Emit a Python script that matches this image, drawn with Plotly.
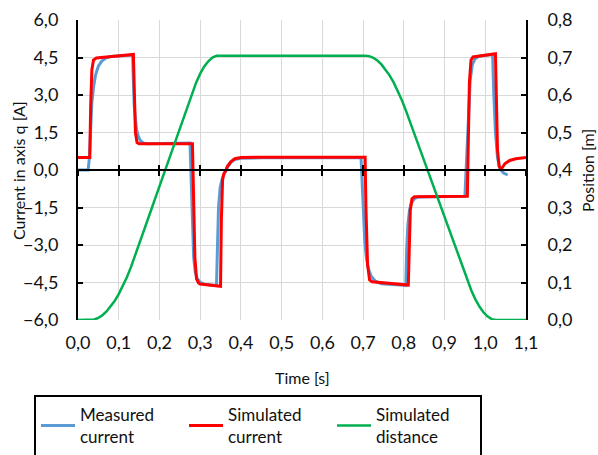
import plotly.graph_objects as go

# ---- data ----
meas_t = [0.000, 0.025, 0.028, 0.031, 0.034, 0.038, 0.043, 0.050, 0.058, 0.068, 0.080, 0.134,
          0.136, 0.138, 0.141, 0.144, 0.148, 0.153, 0.160, 0.170, 0.275, 0.278, 0.281, 0.284,
          0.288, 0.293, 0.300, 0.310, 0.340, 0.342, 0.345, 0.349, 0.354, 0.360, 0.367, 0.375,
          0.385, 0.400, 0.450, 0.695, 0.698, 0.701, 0.704, 0.708, 0.713, 0.720, 0.730, 0.745,
          0.805, 0.807, 0.810, 0.814, 0.819, 0.826, 0.835, 0.950, 0.953, 0.956, 0.959, 0.963,
          0.968, 0.975, 0.985, 1.018, 1.021, 1.025, 1.030, 1.036, 1.045, 1.055]
meas_i = [0.00, 0.00, 0.50, 1.80, 2.70, 3.30, 3.80, 4.15, 4.35, 4.48, 4.54, 4.60,
          3.50, 2.60, 2.00, 1.60, 1.35, 1.18, 1.08, 1.05, 1.08, -0.50, -2.50, -3.50,
          -4.10, -4.35, -4.50, -4.57, -4.62, -3.00, -1.50, -0.70, -0.35, -0.12, 0.12, 0.30,
          0.42, 0.47, 0.49, 0.49, -0.50, -1.80, -2.80, -3.50, -3.95, -4.25, -4.45, -4.55,
          -4.62, -3.20, -2.20, -1.60, -1.30, -1.15, -1.08, -1.05, 0.00, 1.50, 2.70, 3.60,
          4.20, 4.45, 4.55, 4.62, 3.00, 1.50, 0.50, 0.05, -0.12, -0.20]

sim_t = [0.000, 0.029, 0.031, 0.034, 0.038, 0.045, 0.136, 0.138, 0.141, 0.145, 0.150, 0.281,
         0.283, 0.287, 0.291, 0.296, 0.300, 0.350, 0.352, 0.355, 0.358, 0.362, 0.367, 0.375,
         0.385, 0.400, 0.450, 0.705, 0.707, 0.711, 0.716, 0.722, 0.811, 0.813, 0.816, 0.820,
         0.826, 0.956, 0.958, 0.961, 0.965, 0.970, 1.025, 1.027, 1.030, 1.034, 1.038, 1.042,
         1.048, 1.060, 1.075, 1.100]
sim_i = [0.50, 0.50, 2.50, 4.00, 4.40, 4.48, 4.62, 3.00, 1.50, 1.10, 1.05, 1.05,
         -1.00, -3.50, -4.35, -4.52, -4.56, -4.65, -2.00, -0.40, -0.15, -0.05, 0.15, 0.33,
         0.45, 0.50, 0.51, 0.51, -1.50, -3.80, -4.40, -4.47, -4.60, -3.00, -1.60, -1.15,
         -1.07, -1.05, 1.00, 3.50, 4.40, 4.52, 4.65, 2.50, 0.80, 0.15, 0.05, 0.10,
         0.25, 0.38, 0.45, 0.50]

dist_t = [0.00, 0.03, 0.04, 0.05, 0.06, 0.07, 0.08, 0.09, 0.10, 0.11, 0.12, 0.13, 0.14,
          0.15, 0.16, 0.17, 0.18, 0.19, 0.20, 0.21, 0.22, 0.23, 0.24, 0.25, 0.26, 0.27,
          0.28, 0.29, 0.30, 0.31, 0.32, 0.33, 0.34, 0.345, 0.705, 0.715, 0.725, 0.735,
          0.745, 0.755, 0.765, 0.775, 0.785, 0.795, 0.805, 0.811, 0.82, 0.83, 0.84, 0.85,
          0.86, 0.87, 0.88, 0.89, 0.90, 0.91, 0.92, 0.93, 0.94, 0.956, 0.966, 0.976,
          0.986, 0.996, 1.006, 1.016, 1.026, 1.10]
dist_m = [0.000, 0.000, 0.0014, 0.0056, 0.0127, 0.0226, 0.0353, 0.0508, 0.0691, 0.0902, 0.1142, 0.141, 0.1706,
          0.2016, 0.2326, 0.2636, 0.2946, 0.3256, 0.3566, 0.3876, 0.4186, 0.4496, 0.4806, 0.5116, 0.5426, 0.5736,
          0.6046, 0.633, 0.657, 0.676, 0.690, 0.700, 0.7047, 0.705, 0.705, 0.7035, 0.6992, 0.6919,
          0.6816, 0.6685, 0.6524, 0.6335, 0.6116, 0.5867, 0.559, 0.541, 0.514, 0.484, 0.454, 0.424,
          0.394, 0.364, 0.334, 0.304, 0.274, 0.244, 0.214, 0.184, 0.154, 0.106, 0.0781, 0.0545,
          0.0351, 0.0199, 0.009, 0.0023, 0.000, 0.000]

x_range = [0, 1.1]
i_range = [-6, 6]
m_range = [0, 0.8]

FONT = "Lato"
GRID = "#d9d9d9"
TXT = "#111111"

fig = go.Figure()
fig.add_trace(go.Scatter(x=meas_t, y=meas_i, mode="lines", name="Measured<br>current",
                         line=dict(color="#5b9bd5", width=3)))
fig.add_trace(go.Scatter(x=sim_t, y=sim_i, mode="lines", name="Simulated<br>current",
                         line=dict(color="#ff0000", width=3)))
fig.add_trace(go.Scatter(x=dist_t, y=dist_m, mode="lines", name="Simulated<br>distance",
                         line=dict(color="#00b050", width=2.5), yaxis="y2"))
# helper traces so the crossing zero-axis layers are drawn
for xa in ("x2", "x3"):
    fig.add_trace(go.Scatter(x=[0], y=[0], mode="lines", xaxis=xa, yaxis="y",
                             showlegend=False, hoverinfo="skip", line=dict(width=0)))

fig.update_layout(
    width=598, height=455,
    margin=dict(l=78, r=72, t=20, b=135),
    paper_bgcolor="white", plot_bgcolor="white",
    separators=",.",
    font=dict(family=FONT, size=18, color=TXT),
    showlegend=True,
    xaxis=dict(range=x_range, dtick=0.1, tick0=0, tickformat=".1f", showgrid=True,
               gridcolor=GRID, gridwidth=1, showline=False, zeroline=False, ticks="",
               ticklabelstandoff=10, automargin=False),
    xaxis2=dict(range=x_range, dtick=0.1, tick0=0, overlaying="x", anchor="free", position=0.5,
                side="bottom", showticklabels=False, showgrid=False, zeroline=False,
                showline=True, linecolor="black", linewidth=2,
                ticks="outside", ticklen=5, tickwidth=2, tickcolor="black"),
    xaxis3=dict(range=x_range, dtick=0.1, tick0=0, overlaying="x", anchor="free", position=0.5,
                side="bottom", showticklabels=False, showgrid=False, zeroline=False,
                showline=False, ticks="inside", ticklen=5, tickwidth=2, tickcolor="black"),
    yaxis=dict(range=i_range, dtick=1.5, tick0=-6, tickformat=".1f", showgrid=True,
               gridcolor=GRID, gridwidth=1, zeroline=False, showline=True,
               linecolor="black", linewidth=2, ticks="inside", ticklen=5, tickwidth=2,
               tickcolor="black", ticklabelstandoff=14, automargin=False),
    yaxis2=dict(range=m_range, dtick=0.1, tick0=0, tickformat=".1f", overlaying="y",
                side="right", showgrid=False, zeroline=False, showline=True,
                linecolor="black", linewidth=2, ticks="inside", ticklen=5, tickwidth=2,
                tickcolor="black", ticklabelstandoff=16, automargin=False),
    legend=dict(orientation="h", xref="container", yref="container",
                x=34 / 598, y=1 - 395 / 455, xanchor="left", yanchor="top",
                bordercolor="black", borderwidth=2, font=dict(size=17),
                entrywidth=99, entrywidthmode="pixels", itemwidth=34,
                valign="middle", traceorder="normal"),
    annotations=[
        dict(text="Time [s]", xref="paper", yref="paper", x=0.5, y=-0.193,
             xanchor="center", yanchor="middle", showarrow=False, font=dict(size=16)),
        dict(text="Current in axis q [A]", xref="paper", yref="paper", x=-0.134, y=0.5,
             xanchor="center", yanchor="middle", textangle=-90, showarrow=False,
             font=dict(size=16)),
        dict(text="Position [m]", xref="paper", yref="paper", x=1.136, y=0.5,
             xanchor="center", yanchor="middle", textangle=-90, showarrow=False,
             font=dict(size=16)),
    ],
)

fig.write_html("out.html")
